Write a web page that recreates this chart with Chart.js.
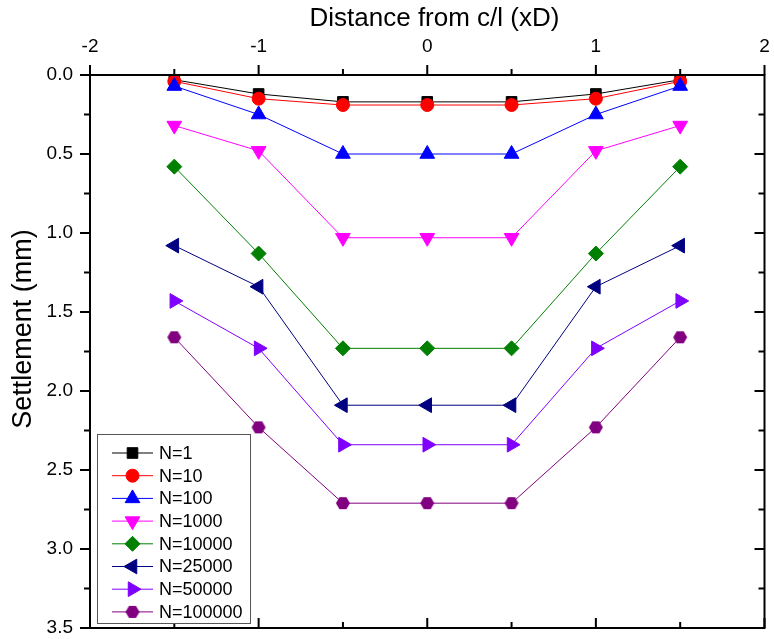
<!DOCTYPE html>
<html>
<head>
<meta charset="utf-8">
<script src="https://cdn.jsdelivr.net/npm/chart.js@4.4.1/dist/chart.umd.min.js"></script>
<style>
  html, body { margin: 0; padding: 0; background: #fff; }
  #wrap { width: 774px; height: 639px; }
</style>
</head>
<body>
<div id="wrap"><canvas id="settleChart"></canvas></div>
<script>
// distance from centre line (xD) and settlement (mm) per load cycle count
const distance = [-1.5, -1, -0.5, 0, 0.5, 1, 1.5];
const cycleLabels = ['N=1', 'N=10', 'N=100', 'N=1000', 'N=10000', 'N=25000', 'N=50000', 'N=100000'];
const n1      = [0.03, 0.12, 0.17, 0.17, 0.17, 0.12, 0.03];
const n10     = [0.04, 0.15, 0.19, 0.19, 0.19, 0.15, 0.04];
const n100    = [0.07, 0.25, 0.50, 0.50, 0.50, 0.25, 0.07];
const n1000   = [0.32, 0.48, 1.03, 1.03, 1.03, 0.48, 0.32];
const n10000  = [0.58, 1.13, 1.73, 1.73, 1.73, 1.13, 0.58];
const n25000  = [1.08, 1.34, 2.09, 2.09, 2.09, 1.34, 1.08];
const n50000  = [1.43, 1.73, 2.34, 2.34, 2.34, 1.73, 1.43];
const n100000 = [1.66, 2.23, 2.71, 2.71, 2.71, 2.23, 1.66];
const xTickValues = [-2, -1, 0, 1, 2];
const yTickValues = [0, 0.5, 1, 1.5, 2, 2.5, 3, 3.5];

const FONT = '"Liberation Sans", Arial, sans-serif';

// hexagon marker, Chart.js has no built-in one
function hexagon(color, r) {
  const s = Math.ceil(2 * r + 2);
  const c = document.createElement('canvas');
  c.width = s; c.height = s;
  const g = c.getContext('2d');
  g.fillStyle = color;
  g.beginPath();
  for (let i = 0; i < 6; i++) {
    const a = i * Math.PI / 3;
    g.lineTo(s / 2 + r * Math.cos(a), s / 2 + r * Math.sin(a));
  }
  g.closePath();
  g.fill();
  return c;
}

const styles = [
  { color: '#000000', pointStyle: 'rect', rotation: 0, radius: 7.5 },
  { color: '#FF0000', pointStyle: 'circle', rotation: 0, radius: 6.5 },
  { color: '#0000FF', pointStyle: 'triangle', rotation: 0, radius: 8.5 },
  { color: '#FF00FF', pointStyle: 'triangle', rotation: 180, radius: 8.5 },
  { color: '#008000', pointStyle: 'rectRot', rotation: 0, radius: 7.5 },
  { color: '#000080', pointStyle: 'triangle', rotation: -90, radius: 8.5 },
  { color: '#8000FF', pointStyle: 'triangle', rotation: 90, radius: 8.5 },
  { color: '#800080', pointStyle: hexagon('#800080', 7), rotation: 0, radius: 7 }
];

const seriesValues = [n1, n10, n100, n1000, n10000, n25000, n50000, n100000];

const datasets = seriesValues.map((vals, i) => ({
  label: cycleLabels[i],
  data: distance.map((d, k) => ({ x: d, y: vals[k] })),
  borderColor: styles[i].color,
  backgroundColor: styles[i].color,
  borderWidth: 1,
  pointStyle: styles[i].pointStyle,
  pointRotation: styles[i].rotation,
  pointRadius: styles[i].radius,
  pointBorderWidth: 1,
  order: seriesValues.length - i // later series on top
}));

// box frame with major/minor ticks on all four sides
const frameTicks = {
  id: 'frameTicks',
  afterDatasetsDraw(chart) {
    const { ctx, chartArea: a, scales: { x, y } } = chart;
    ctx.save();
    ctx.strokeStyle = '#000';
    ctx.lineWidth = 2;
    ctx.strokeRect(a.left, a.top, a.right - a.left, a.bottom - a.top);
    ctx.beginPath();
    for (let v = -2; v <= 2.0001; v += 0.5) {
      const px = x.getPixelForValue(v);
      const len = Math.abs(v - Math.round(v)) < 1e-6 ? 10 : 6;
      ctx.moveTo(px, a.top); ctx.lineTo(px, a.top - len);
      ctx.moveTo(px, a.bottom); ctx.lineTo(px, a.bottom - len);
    }
    for (let v = 0; v <= 3.5001; v += 0.25) {
      const py = y.getPixelForValue(v);
      const len = Math.abs(v * 2 - Math.round(v * 2)) < 1e-6 ? 10 : 6;
      ctx.moveTo(a.left, py); ctx.lineTo(a.left - len, py);
      ctx.moveTo(a.right, py); ctx.lineTo(a.right - len, py);
    }
    ctx.stroke();
    ctx.restore();
  }
};

// legend box in the lower left corner of the plot
const boxLegend = {
  id: 'boxLegend',
  afterDraw(chart) {
    const { ctx } = chart;
    const left = 97, top = 434, width = 153, height = 189, rowH = 22.7;
    ctx.save();
    ctx.fillStyle = '#fff';
    ctx.fillRect(left, top, width, height);
    ctx.strokeStyle = '#555';
    ctx.lineWidth = 1;
    ctx.strokeRect(left + 0.5, top + 0.5, width, height);
    chart.data.datasets.forEach((ds, i) => {
      const yy = top + 19 + i * rowH;
      ctx.strokeStyle = ds.borderColor;
      ctx.lineWidth = 1;
      ctx.beginPath();
      ctx.moveTo(112, yy); ctx.lineTo(153, yy);
      ctx.stroke();
      ctx.fillStyle = ds.backgroundColor;
      Chart.helpers.drawPoint(ctx, {
        pointStyle: ds.pointStyle,
        rotation: ds.pointRotation,
        radius: ds.pointRadius,
        borderWidth: 1
      }, 132.5, yy);
      ctx.fillStyle = '#000';
      ctx.font = '18px ' + FONT;
      ctx.textAlign = 'left';
      ctx.textBaseline = 'middle';
      ctx.fillText(ds.label, 159, yy + 1);
    });
    ctx.restore();
  }
};

const ctx = document.getElementById('settleChart').getContext('2d');

const settleChart = new Chart(ctx, {
  type: 'line',
  data: { datasets },
  plugins: [frameTicks, boxLegend],
  options: {
    responsive: true,
    maintainAspectRatio: false,
    animation: false,
    layout: { padding: { left: 0, top: 0, right: 3, bottom: 11 } },
    plugins: {
      legend: { display: false },
      tooltip: { enabled: false }
    },
    scales: {
      x: {
        type: 'linear',
        position: 'top',
        min: -2,
        max: 2,
        afterBuildTicks: (scale) => { scale.ticks = xTickValues.map(v => ({ value: v })); },
        afterFit: (scale) => { scale.height = 75; scale.paddingLeft = 0; scale.paddingRight = 0; },
        grid: { display: false, drawTicks: false },
        border: { display: false },
        ticks: {
          color: '#000',
          font: { family: FONT, size: 19 },
          padding: 17,
          maxRotation: 0,
          callback: (v) => String(v)
        },
        title: {
          display: true,
          // leading spaces nudge the title right of the axis centre
          text: '  Distance from c/l (xD)',
          color: '#000',
          font: { family: FONT, size: 26 },
          padding: { top: 3, bottom: 0 }
        }
      },
      y: {
        type: 'linear',
        reverse: true,
        min: 0,
        max: 3.5,
        afterBuildTicks: (scale) => { scale.ticks = yTickValues.map(v => ({ value: v })); },
        afterFit: (scale) => { scale.width = 90; scale.paddingTop = 0; scale.paddingBottom = 0; },
        grid: { display: false, drawTicks: false },
        border: { display: false },
        ticks: {
          color: '#000',
          font: { family: FONT, size: 19 },
          padding: 17,
          callback: (v) => Number(v).toFixed(1)
        },
        title: {
          display: true,
          // leading spaces lift the rotated title above the axis centre
          text: '      Settlement (mm)',
          color: '#000',
          font: { family: FONT, size: 27 },
          padding: { top: 7, bottom: 0 }
        }
      }
    }
  }
});
</script>
</body>
</html>
